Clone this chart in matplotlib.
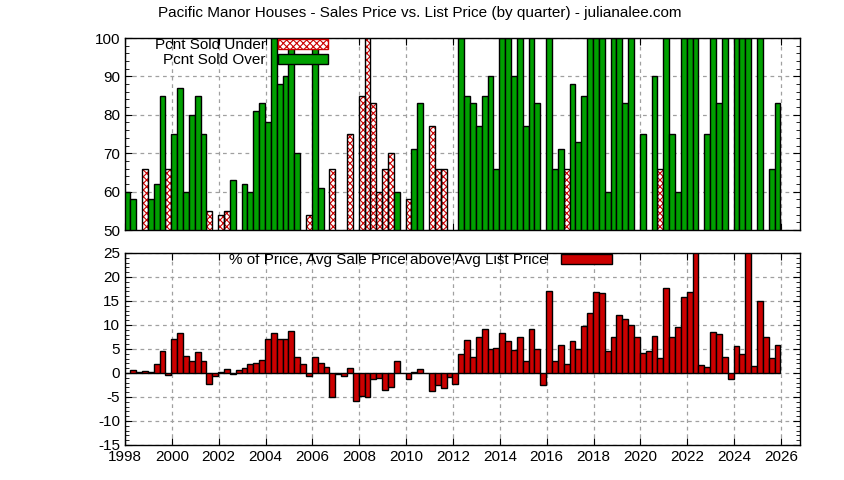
import numpy as np
import matplotlib
matplotlib.use("Agg")
import matplotlib.pyplot as plt
from matplotlib.patches import Patch

plt.rcParams['font.family'] = ['Liberation Sans', 'DejaVu Sans']
plt.rcParams['axes.unicode_minus'] = False
plt.rcParams['hatch.linewidth'] = 0.8

N = np.nan
# quarterly, 1998 Q1 .. 2025 Q4
pcnt_under = [N, N, N, 66, N, N, N, 66, N, N, N, N, N, N, 55, N,
              54, 55, N, N, N, N, N, N, N, N, N, N, N, N, N, 54,
              N, N, N, 66, N, N, 75, N, 85, 100, 83, 60, 66, 70, N, N,
              58, N, N, N, 77, 66, 66, N, N, N, N, N, N, N, N, N,
              N, N, N, N, N, N, N, N, N, N, N, 66, N, N, N, N,
              N, N, N, N, N, N, N, N, N, N, N, 66, N, N, N, N,
              N, N, N, N, N, N, N, N, N, N, N, N, N, N, N, N]
pcnt_over = [60, 58, N, N, 58, 62, 85, N, 75, 87, 60, 80, 85, 75, N, N,
             N, N, 63, N, 62, 60, 81, 83, 78, 100, 88, 90, 100, 70, N, N,
             100, 61, N, N, N, N, N, N, N, N, N, N, N, N, 60, N,
             N, 71, 83, N, N, N, N, N, N, 100, 85, 83, 77, 85, 90, 66,
             100, 100, 90, 100, 77, 100, 83, N, 100, 66, 71, N, 88, 73, 85, 100,
             100, 100, 60, 100, 100, 83, 100, N, 75, N, 90, N, 100, 75, 60, 100,
             100, 100, N, 75, 100, 83, 100, N, 100, 100, 100, N, 100, N, 66, 83]
pct_above = [0, 0.55, 0.15, 0.35, 0.15, 1.8, 4.5, -0.35, 7.0, 8.3, 3.5, 2.6, 4.3, 2.4, -2.2, -0.7,
             0.15, 0.8, -0.3, 0.55, 1.0, 1.8, 2.0, 2.8, 7.0, 8.3, 7.0, 7.0, 8.7, 3.3, 1.8, -0.7,
             3.3, 2.0, 1.2, -5.1, -0.3, -0.7, 1.0, -5.9, -4.7, -4.9, -1.3, -1.0, -3.6, -2.9, 2.4, 0,
             -1.3, 0.15, 0.8, 0, -3.8, -2.6, -3.2, -0.8, -2.2, 3.9, 6.8, 3.3, 7.4, 9.1, 4.9, 5.3,
             8.3, 6.6, 4.7, 7.4, 2.4, 9.1, 4.9, -2.6, 17.0, 2.6, 5.8, 1.8, 6.6, 4.9, 9.7, 12.4,
             16.8, 16.6, 4.5, 7.6, 12.0, 11.2, 9.9, 7.4, 4.1, 4.5, 7.8, 3.1, 17.8, 7.4, 9.5, 15.8,
             16.8, 27, 1.6, 1.2, 8.5, 8.1, 3.3, -1.3, 5.6, 3.9, 27, 1.4, 14.9, 7.4, 3.1, 5.8]

x = 1998 + 0.25 * np.arange(len(pct_above)) + 0.1
green = '#00a000'
red = '#cc0000'

fig = plt.figure(figsize=(8.44, 4.8), dpi=100)
ax1 = fig.add_axes([125/844, 1-230/480, 675/844, 192/480])
ax2 = fig.add_axes([125/844, 1-445/480, 675/844, 192/480])

# hatch takes the edge colour, so draw red hatching first and the black outline on top
ax1.bar(x, pcnt_under, width=0.25, facecolor='white', edgecolor=red,
        hatch='xxxxx', linewidth=0)
ax1.bar(x, pcnt_under, width=0.25, fill=False, edgecolor='black', linewidth=1)
ax1.bar(x, pcnt_over, width=0.25, color=green, edgecolor='black', linewidth=1)
ax2.bar(x, pct_above, width=0.25, color=red, edgecolor='black', linewidth=1,
        label='% of Price, Avg Sale Price above Avg List Price')

xmax = 1998 + 675/23.43
for ax in (ax1, ax2):
    ax.set_xlim(1998, xmax)
    ax.set_xticks(np.arange(1998, 2027, 2))
    ax.grid(True, color='#a0a0a0', linestyle=(0, (3, 3)), linewidth=0.9)
    ax.set_axisbelow(True)
    ax.tick_params(direction='in', top=True, right=True, length=5, labelsize=11)
    ax.tick_params(which='minor', direction='in', right=True, length=3)
    for s in ax.spines.values():
        s.set_linewidth(1)

ax1.set_ylim(50, 100)
ax1.set_yticks(np.arange(50, 101, 10))
ax1.set_yticks(np.arange(50, 101, 2), minor=True)
ax1.tick_params(labelbottom=False)
ax2.set_ylim(-15, 25)
ax2.set_yticks(np.arange(-15, 26, 5))
ax2.set_yticks(np.arange(-15, 26, 1), minor=True)

under_patch = Patch(facecolor='white', edgecolor=red, hatch='xxxxx', linewidth=1)
over_patch = Patch(facecolor=green, edgecolor='black', linewidth=1)
ax1.legend([under_patch, over_patch], ['Pcnt Sold Under', 'Pcnt Sold Over'],
           loc='upper left', bbox_to_anchor=(0.035, 1.03), frameon=False, markerfirst=False,
           fontsize=11, handlelength=3.3, handleheight=0.6, labelspacing=0.05, borderaxespad=0)
ax2.legend(loc='upper left', bbox_to_anchor=(0.145, 1.03), frameon=False, markerfirst=False,
           fontsize=11, handlelength=3.3, handleheight=0.6, handletextpad=0.9, borderaxespad=0)

fig.text(420/844, 1-13/480, 'Pacific Manor Houses - Sales Price vs. List Price (by quarter) - julianalee.com',
         ha='center', va='center', fontsize=11)

fig.savefig('out.png', dpi=100)
